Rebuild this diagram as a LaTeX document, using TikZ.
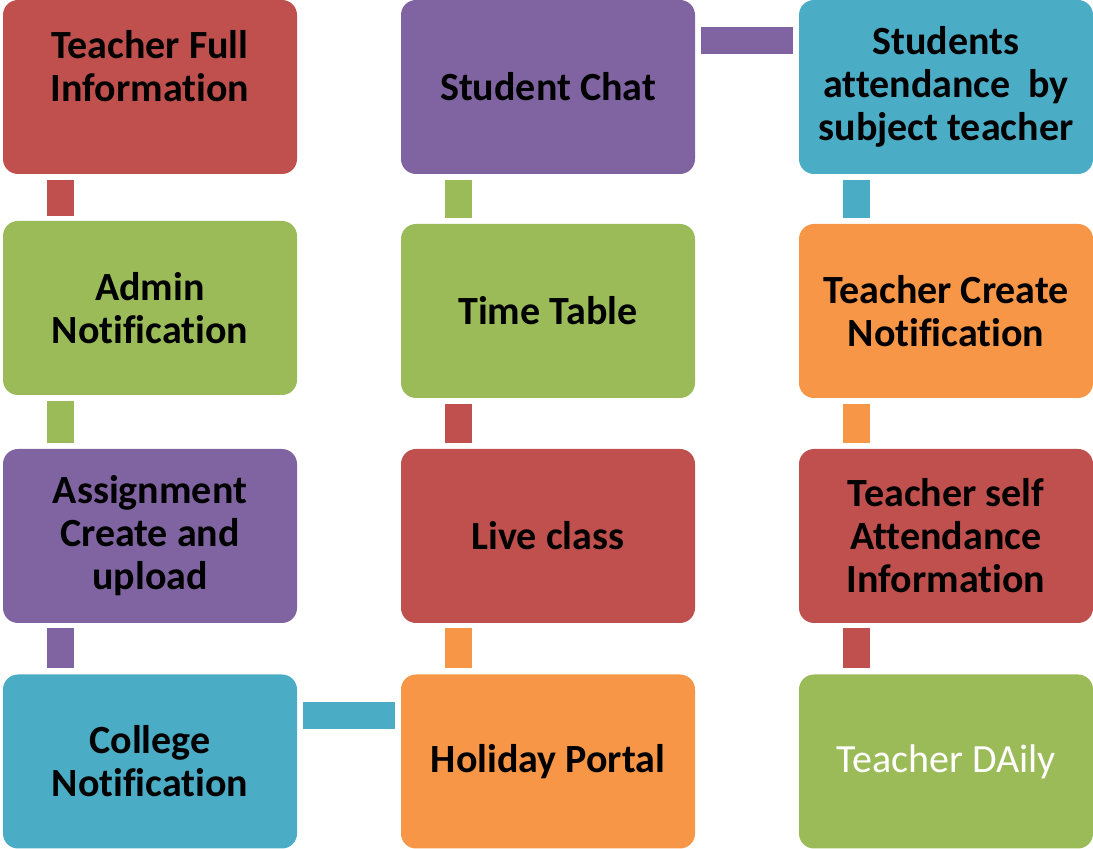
\documentclass[tikz,border=0pt]{standalone}
\usepackage{fontspec}
\setmainfont{Carlito}[Ligatures=NoCommon]
\usepackage[HTML]{xcolor}
\usepackage{tikz}
\usetikzlibrary{positioning}

\definecolor{cRed}{HTML}{C0504D}
\definecolor{cGreen}{HTML}{9BBB59}
\definecolor{cPurple}{HTML}{8064A2}
\definecolor{cBlue}{HTML}{4BACC6}
\definecolor{cOrange}{HTML}{F79646}

\begin{document}
\begin{tikzpicture}[x=1pt,y=1pt,
  box/.style={rounded corners=15pt,minimum width=294pt,minimum height=174pt,inner sep=0pt,align=center,font=\fontsize{40}{43}\selectfont\bfseries},
  bar/.style={line width=27pt}]
\useasboundingbox (0,0) rectangle (1093,849);

\node[box,fill=cRed] (A) at (150,762) {Teacher Full\\Information\\~};
\node[box,fill=cGreen] (B) at (150,541) {Admin\\Notification};
\node[box,fill=cPurple] (C) at (150,313) {Assignment\\Create and\\upload};
\node[box,fill=cBlue] (D) at (150,87.5) {College\\Notification};
\node[box,fill=cOrange] (E) at (548,87.5) {Holiday Portal};
\node[box,fill=cRed] (F) at (548,313) {Live class};
\node[box,fill=cGreen] (G) at (548,538) {Time Table};
\node[box,fill=cPurple] (H) at (548,762) {Student Chat};
\node[box,fill=cBlue] (I) at (946,762) {Students\\attendance\ \ by\\subject teacher};
\node[box,fill=cOrange] (J) at (946,538) {Teacher Create\\Notification};
\node[box,fill=cRed] (K) at (946,313) {Teacher self\\Attendance\\Information};
\node[box,fill=cGreen,text=white,font=\fontsize{40}{43}\selectfont] (L) at (946,87.5) {Teacher DAily};

\draw[bar,cRed] ([xshift=58pt,yshift=-6pt]A.south west) -- ([xshift=58pt,yshift=5pt]B.north west);
\draw[bar,cGreen] ([xshift=58pt,yshift=-6pt]B.south west) -- ([xshift=58pt,yshift=6pt]C.north west);
\draw[bar,cPurple] ([xshift=58pt,yshift=-5pt]C.south west) -- ([xshift=58pt,yshift=6pt]D.north west);
\draw[bar,cBlue] ([xshift=6pt,yshift=-41.5pt]D.north east) -- ([xshift=-6pt,yshift=-41.5pt]E.north west);
\draw[bar,cOrange] ([xshift=58pt,yshift=6pt]E.north west) -- ([xshift=58pt,yshift=-5pt]F.south west);
\draw[bar,cRed] ([xshift=58pt,yshift=6pt]F.north west) -- ([xshift=58pt,yshift=-6pt]G.south west);
\draw[bar,cGreen] ([xshift=58pt,yshift=6pt]G.north west) -- ([xshift=58pt,yshift=-6pt]H.south west);
\draw[bar,cPurple] ([xshift=6pt,yshift=-41pt]H.north east) -- ([xshift=-6pt,yshift=-41pt]I.north west);
\draw[bar,cBlue] ([xshift=58pt,yshift=-6pt]I.south west) -- ([xshift=58pt,yshift=6pt]J.north west);
\draw[bar,cOrange] ([xshift=58pt,yshift=-6pt]J.south west) -- ([xshift=58pt,yshift=6pt]K.north west);
\draw[bar,cRed] ([xshift=58pt,yshift=-5pt]K.south west) -- ([xshift=58pt,yshift=6pt]L.north west);
\end{tikzpicture}
\end{document}
